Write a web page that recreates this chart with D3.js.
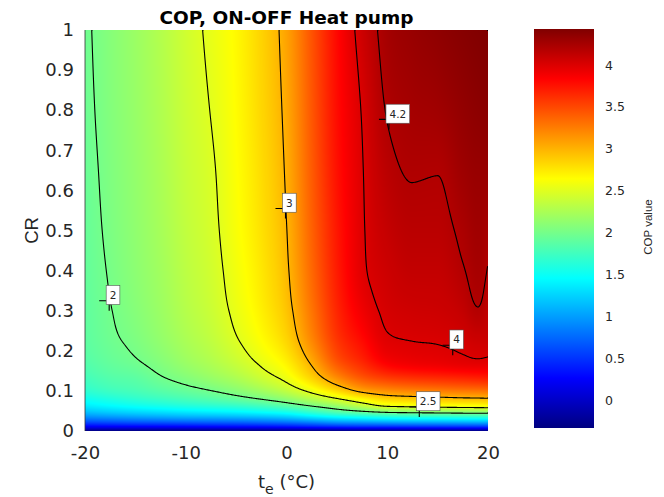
<!DOCTYPE html>
<html>
<head>
<meta charset="utf-8">
<title>COP, ON-OFF Heat pump</title>
<script src="https://cdn.jsdelivr.net/npm/d3@7/dist/d3.min.js"></script>
<style>
  body { margin: 0; background: #fff; }
</style>
</head>
<body>
<div id="chart"></div>
<script>
// outdoor temperature grid (°C), one column per value
const teValues = [-20, -17.5, -15, -12.5, -10, -7.5, -5, -2.5, 0, 2.5, 5, 7.5, 10, 12.5, 15, 17.5, 19, 20];
// capacity ratio grid, one row per value
const crValues = [0, 0.01, 0.02, 0.03, 0.045, 0.06, 0.08, 0.1, 0.13, 0.17, 0.22, 0.3, 0.4, 0.5, 0.65, 0.8, 1];
// COP: copRows[CR row][te column]
const copRows = [
  [-0.33, -0.33, -0.33, -0.33, -0.33, -0.33, -0.33, -0.33, -0.33, -0.33, -0.33, -0.33, -0.33, -0.33, -0.33, -0.33, -0.33, -0.33],
  [0.19, 0.20, 0.21, 0.22, 0.23, 0.24, 0.26, 0.27, 0.30, 0.35, 0.39, 0.42, 0.42, 0.43, 0.44, 0.45, 0.45, 0.45],
  [0.54, 0.57, 0.60, 0.61, 0.63, 0.65, 0.66, 0.69, 0.73, 0.80, 0.89, 0.92, 0.95, 0.97, 0.98, 0.99, 1.00, 1.00],
  [0.81, 0.85, 0.89, 0.92, 0.95, 0.96, 0.98, 1.01, 1.07, 1.18, 1.28, 1.34, 1.39, 1.41, 1.42, 1.44, 1.45, 1.45],
  [1.12, 1.18, 1.23, 1.27, 1.31, 1.34, 1.37, 1.42, 1.49, 1.64, 1.78, 1.87, 1.95, 1.98, 2.00, 2.02, 2.03, 2.03],
  [1.34, 1.41, 1.47, 1.52, 1.57, 1.61, 1.65, 1.72, 1.82, 1.96, 2.11, 2.29, 2.46, 2.49, 2.52, 2.54, 2.55, 2.56],
  [1.52, 1.60, 1.67, 1.73, 1.79, 1.85, 1.92, 2.01, 2.13, 2.30, 2.48, 2.68, 2.85, 2.89, 2.92, 2.95, 2.96, 2.97],
  [1.66, 1.74, 1.79, 1.86, 1.925, 1.995, 2.085, 2.20, 2.35, 2.56, 2.81, 3.06, 3.17, 3.22, 3.25, 3.28, 3.29, 3.30],
  [1.76, 1.84, 1.88, 1.975, 2.06, 2.15, 2.25, 2.39, 2.55, 2.83, 3.16, 3.41, 3.535, 3.59, 3.62, 3.65, 3.67, 3.68],
  [1.84, 1.92, 1.978, 2.067, 2.173, 2.267, 2.385, 2.53, 2.70, 3.03, 3.43, 3.65, 3.85, 3.91, 3.93, 3.96, 3.97, 3.95],
  [1.883, 1.965, 2.035, 2.133, 2.241, 2.339, 2.475, 2.63, 2.825, 3.19, 3.57, 3.78, 3.97, 3.995, 4.005, 4.03, 4.06, 4.06],
  [1.901, 1.993, 2.08, 2.18, 2.296, 2.397, 2.545, 2.71, 2.92, 3.29, 3.66, 3.90, 4.03, 4.06, 4.07, 4.12, 4.19, 4.12],
  [1.917, 2.015, 2.11, 2.209, 2.329, 2.428, 2.585, 2.75, 2.97, 3.35, 3.71, 3.97, 4.07, 4.12, 4.12, 4.19, 4.25, 4.19],
  [1.929, 2.032, 2.127, 2.23, 2.351, 2.451, 2.613, 2.78, 2.995, 3.38, 3.73, 3.98, 4.11, 4.16, 4.16, 4.23, 4.28, 4.24],
  [1.942, 2.049, 2.145, 2.251, 2.376, 2.474, 2.634, 2.805, 3.025, 3.41, 3.76, 3.99, 4.16, 4.21, 4.205, 4.29, 4.32, 4.32],
  [1.956, 2.066, 2.162, 2.272, 2.398, 2.506, 2.652, 2.83, 3.05, 3.43, 3.78, 4.01, 4.21, 4.26, 4.28, 4.34, 4.37, 4.38],
  [1.97, 2.08, 2.18, 2.29, 2.42, 2.54, 2.67, 2.85, 3.08, 3.45, 3.80, 4.07, 4.26, 4.32, 4.36, 4.40, 4.42, 4.43],
];
const copMin = -0.33;
const copMax = 4.43;

// contour levels and where their labels sit
const levels = [2, 2.5, 3, 4, 4.2];
const labelText = ['2', '2.5', '3', '4', '4.2'];
const labelTe = [-17.6, 13.18, -0.1, 16.5, 10.17];
const labelCr = [0.325, 0.06, 0.555, 0.214, 0.777];

const xTicks = [-20, -10, 0, 10, 20];
const yTicks = [0, 0.1, 0.2, 0.3, 0.4, 0.5, 0.6, 0.7, 0.8, 0.9, 1];
const barTicks = [0, 0.5, 1, 1.5, 2, 2.5, 3, 3.5, 4];

// matlab jet
const jetStops = [0, 0.125, 0.375, 0.625, 0.875, 1];
const jetColors = ['#000080', '#0000ff', '#00ffff', '#ffff00', '#ff0000', '#800000'];

const width = 664;
const height = 497;
const plotLeft = 85;
const plotTop = 30;
const plotW = 403;
const plotH = 401;
const wide = '"DejaVu Sans", "Liberation Sans", Arial, sans-serif';
const narrow = '"Liberation Sans", Arial, sans-serif';

const x = d3.scaleLinear().domain([-20, 20]).range([plotLeft, plotLeft + plotW]);
const y = d3.scaleLinear().domain([0, 1]).range([plotTop + plotH, plotTop]);
const color = d3.scaleLinear()
  .domain(jetStops.map((t) => copMin + t * (copMax - copMin)))
  .range(jetColors)
  .clamp(true);

// monotone cubic through (xs, ys), same slopes as d3.curveMonotoneX
function monotone(xs, ys) {
  const n = xs.length;
  const h = [];
  const s = [];
  const m = [];
  for (let i = 0; i < n - 1; i++) {
    h[i] = xs[i + 1] - xs[i];
    s[i] = (ys[i + 1] - ys[i]) / h[i];
  }
  for (let i = 1; i < n - 1; i++) {
    const p = (s[i - 1] * h[i] + s[i] * h[i - 1]) / (h[i - 1] + h[i]);
    m[i] = (Math.sign(s[i - 1]) + Math.sign(s[i]))
      * Math.min(Math.abs(s[i - 1]), Math.abs(s[i]), 0.5 * Math.abs(p)) || 0;
  }
  m[0] = (3 * s[0] - m[1]) / 2;
  m[n - 1] = (3 * s[n - 2] - m[n - 2]) / 2;
  return (v) => {
    const i = Math.max(0, Math.min(n - 2, d3.bisectRight(xs, v) - 1));
    const t = (v - xs[i]) / h[i];
    const t2 = t * t;
    const t3 = t2 * t;
    return (2 * t3 - 3 * t2 + 1) * ys[i] + (t3 - 2 * t2 + t) * h[i] * m[i]
      + (-2 * t3 + 3 * t2) * ys[i + 1] + (t3 - t2) * h[i] * m[i + 1];
  };
}

// one sample per screen pixel
const nx = plotW;
const ny = plotH;
const teFine = d3.range(nx).map((i) => x.invert(plotLeft + i + 0.5));
const crFine = d3.range(ny).map((k) => y.invert(plotTop + k + 0.5));
const rowsFine = copRows.map((row) => teFine.map(monotone(teValues, row)));
const values = new Float64Array(nx * ny);
for (let i = 0; i < nx; i++) {
  const f = monotone(crValues, rowsFine.map((r) => r[i]));
  for (let k = 0; k < ny; k++) values[k * nx + i] = f(crFine[k]);
}

const svg = d3.select('#chart').append('svg')
  .attr('xmlns', 'http://www.w3.org/2000/svg')
  .attr('width', width)
  .attr('height', height)
  .style('display', 'block');

const defs = svg.append('defs');
defs.append('clipPath').attr('id', 'plot')
  .append('rect')
  .attr('x', plotLeft).attr('y', plotTop)
  .attr('width', plotW).attr('height', plotH);

// heat map
const canvas = document.createElement('canvas');
canvas.width = nx;
canvas.height = ny;
const ctx = canvas.getContext('2d');
const img = ctx.createImageData(nx, ny);
const lut = d3.range(1024).map((j) => d3.rgb(color(copMin + (j / 1023) * (copMax - copMin))));
for (let p = 0; p < nx * ny; p++) {
  const j = Math.max(0, Math.min(1023, Math.round(((values[p] - copMin) / (copMax - copMin)) * 1023)));
  const c = lut[j];
  img.data[p * 4] = c.r;
  img.data[p * 4 + 1] = c.g;
  img.data[p * 4 + 2] = c.b;
  img.data[p * 4 + 3] = 255;
}
ctx.putImageData(img, 0, 0);
svg.append('image')
  .attr('x', plotLeft).attr('y', plotTop)
  .attr('width', plotW).attr('height', plotH)
  .attr('preserveAspectRatio', 'none')
  .attr('href', canvas.toDataURL());

// contour lines, dropping the parts of each ring that run along the grid edge
function isolines(geo) {
  const lines = [];
  const onEdge = (a, b) => (a[0] === 0 && b[0] === 0) || (a[0] === nx && b[0] === nx)
    || (a[1] === 0 && b[1] === 0) || (a[1] === ny && b[1] === ny);
  geo.coordinates.forEach((poly) => poly.forEach((ring) => {
    let cur = [];
    for (let i = 0; i < ring.length - 1; i++) {
      const a = ring[i];
      const b = ring[i + 1];
      if (onEdge(a, b)) {
        if (cur.length > 1) lines.push(cur);
        cur = [];
      } else {
        if (!cur.length) cur.push(a);
        cur.push(b);
      }
    }
    if (cur.length > 1) lines.push(cur);
  }));
  return lines;
}

const contours = d3.contours().size([nx, ny]).thresholds(levels)(values);
const line = d3.line().x((p) => plotLeft + p[0]).y((p) => plotTop + p[1]);
const gLines = svg.append('g').attr('clip-path', 'url(#plot)');
contours.forEach((c) => {
  isolines(c).forEach((pts) => {
    gLines.append('path')
      .attr('d', line(pts))
      .attr('fill', 'none')
      .attr('stroke', '#000')
      .attr('stroke-width', 1.1);
  });
});

// axis line on the left
svg.append('line')
  .attr('x1', plotLeft).attr('x2', plotLeft)
  .attr('y1', plotTop).attr('y2', plotTop + plotH)
  .attr('stroke', '#333').attr('stroke-width', 0.8);

// contour labels
labelText.forEach((txt, i) => {
  const cx = x(labelTe[i]);
  const cy = y(labelCr[i]);
  const g = svg.append('g');
  g.append('path')
    .attr('d', `M${cx - 10},${cy}H${cx + 10}M${cx},${cy - 10}V${cy + 10}`)
    .attr('stroke', '#000')
    .attr('stroke-width', 1.1);
  const box = g.append('rect');
  const t = g.append('text')
    .attr('font-family', wide)
    .attr('font-size', 10.5)
    .attr('fill', '#262626')
    .attr('text-anchor', 'middle')
    .text(txt);
  const tw = t.node().getComputedTextLength();
  const bw = tw + 7;
  const bh = 19;
  const bx = cx - 3;
  const by = cy + 3.8 - bh;
  box.attr('x', bx).attr('y', by)
    .attr('width', bw).attr('height', bh)
    .attr('fill', '#fff')
    .attr('stroke', '#555')
    .attr('stroke-width', 0.6);
  t.attr('x', bx + bw / 2).attr('y', by + bh / 2).attr('dy', '0.36em');
});

// axes
const xAxis = svg.append('g')
  .attr('transform', `translate(0,${plotTop + plotH})`)
  .call(d3.axisBottom(x).tickValues(xTicks).tickSize(0).tickPadding(15).tickFormat((d) => String(d)));
xAxis.select('.domain').remove();
xAxis.selectAll('text')
  .attr('font-family', wide)
  .attr('font-size', 18)
  .attr('fill', '#262626');

const yAxis = svg.append('g')
  .attr('transform', `translate(${plotLeft},0)`)
  .call(d3.axisLeft(y).tickValues(yTicks).tickSize(0).tickPadding(11).tickFormat((d) => String(+d.toFixed(1))));
yAxis.select('.domain').remove();
yAxis.selectAll('text')
  .attr('font-family', wide)
  .attr('font-size', 18)
  .attr('fill', '#262626');

// title and axis titles
svg.append('text')
  .attr('x', plotLeft + plotW / 2)
  .attr('y', 24)
  .attr('text-anchor', 'middle')
  .attr('font-family', wide)
  .attr('font-weight', 'bold')
  .attr('font-size', 18.5)
  .attr('fill', '#000')
  .text('COP, ON-OFF Heat pump');

const xLabel = svg.append('text')
  .attr('x', plotLeft + plotW / 2)
  .attr('y', 488)
  .attr('text-anchor', 'middle')
  .attr('font-family', wide)
  .attr('font-size', 18)
  .attr('fill', '#262626');
xLabel.append('tspan').text('t');
xLabel.append('tspan').attr('dy', 6).attr('font-size', 14).text('e');
xLabel.append('tspan').attr('dy', -6).text(' (°C)');

svg.append('text')
  .attr('transform', `translate(38,${plotTop + plotH / 2}) rotate(-90)`)
  .attr('text-anchor', 'middle')
  .attr('font-family', narrow)
  .attr('font-size', 18.5)
  .attr('fill', '#262626')
  .text('CR');

// colour bar
const barX = 534;
const barW = 60;
const barY = d3.scaleLinear().domain([copMin, copMax]).range([428, 29]);
const grad = defs.append('linearGradient')
  .attr('id', 'jet')
  .attr('x1', 0).attr('y1', 1)
  .attr('x2', 0).attr('y2', 0);
jetStops.forEach((t, i) => {
  grad.append('stop').attr('offset', t).attr('stop-color', jetColors[i]);
});
svg.append('rect')
  .attr('x', barX).attr('y', barY(copMax))
  .attr('width', barW).attr('height', barY(copMin) - barY(copMax))
  .attr('fill', 'url(#jet)');

const barAxis = svg.append('g')
  .attr('transform', `translate(${barX + barW},0)`)
  .call(d3.axisRight(barY).tickValues(barTicks).tickSize(0).tickPadding(11).tickFormat((d) => String(d)));
barAxis.select('.domain').remove();
barAxis.selectAll('text')
  .attr('font-family', wide)
  .attr('font-size', 12.5)
  .attr('fill', '#262626');

svg.append('text')
  .attr('transform', 'translate(652,227) rotate(-90)')
  .attr('text-anchor', 'middle')
  .attr('font-family', narrow)
  .attr('font-size', 11.5)
  .attr('fill', '#262626')
  .text('COP value');
</script>
</body>
</html>
